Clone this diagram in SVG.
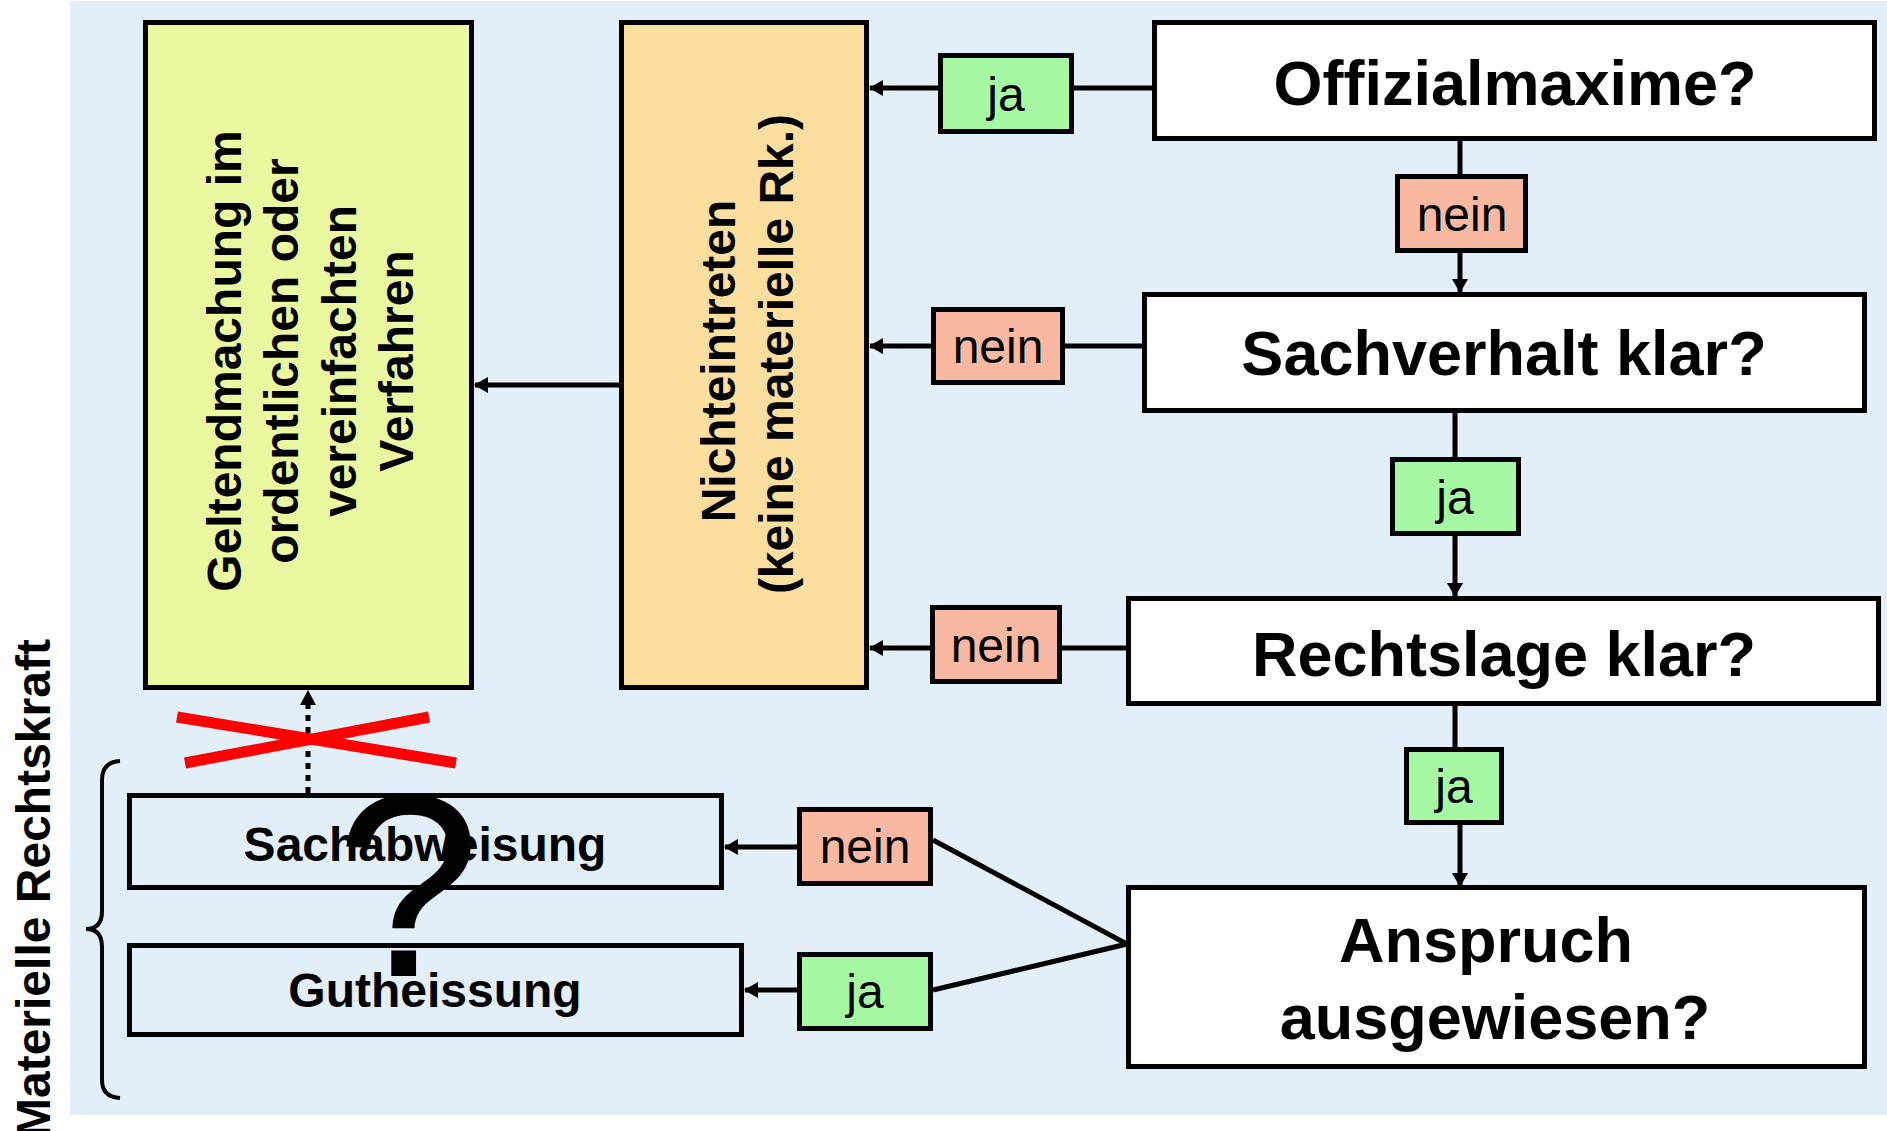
<svg xmlns="http://www.w3.org/2000/svg" width="1887" height="1131" viewBox="0 0 1887 1131">
<style>
text{font-family:"Liberation Sans",Arial,Helvetica,sans-serif;fill:#000}
.b{font-weight:bold}
.q{font-size:63px;font-weight:bold;text-anchor:middle}
.v{font-size:48px;font-weight:bold;text-anchor:middle}
.l{font-size:48px;text-anchor:middle}
.box{stroke:#000;stroke-width:5}
.ja{fill:#A6F8A2;stroke:#000;stroke-width:5}
.nein{fill:#F9B9A1;stroke:#000;stroke-width:5}
.c{stroke:#000;stroke-width:5;fill:none}
.a{stroke:#000;stroke-width:5;fill:none;marker-end:url(#ah)}
</style>
<defs>
<marker id="ah" viewBox="0 0 14 16" refX="13" refY="8" markerWidth="14" markerHeight="16" markerUnits="userSpaceOnUse" orient="auto">
<path d="M0,0 L14,8 L0,16 Z" fill="#000"/>
</marker>
</defs>
<rect x="0" y="0" width="1887" height="1131" fill="#FFFFFF"/>
<rect x="70" y="1" width="1817" height="1114" fill="#E2EEF8"/>

<g id="connectors">
<line class="c" x1="1153" y1="88" x2="1074" y2="88"/>
<line class="a" x1="938" y1="88" x2="870" y2="88"/>
<line class="c" x1="1460" y1="141" x2="1460" y2="174"/>
<line class="a" x1="1460" y1="253" x2="1460" y2="292"/>
<line class="c" x1="1142" y1="346" x2="1065" y2="346"/>
<line class="a" x1="931" y1="346" x2="870" y2="346"/>
<line class="c" x1="1455" y1="412" x2="1455" y2="457"/>
<line class="a" x1="1455" y1="536" x2="1455" y2="596"/>
<line class="c" x1="1126" y1="648" x2="1062" y2="648"/>
<line class="a" x1="930" y1="648" x2="870" y2="648"/>
<line class="c" x1="1455" y1="706" x2="1455" y2="747"/>
<line class="a" x1="1460" y1="825" x2="1460" y2="886"/>
<polyline class="c" points="933,840 1127,944 933,990"/>
<line class="a" x1="797" y1="847" x2="725" y2="847"/>
<line class="a" x1="797" y1="990" x2="745" y2="990"/>
<line class="a" x1="619" y1="385" x2="475" y2="385"/>
<line stroke="#000" stroke-width="5" stroke-dasharray="6 6" x1="308" y1="793" x2="308" y2="704"/>
<path d="M300,705 L308,690 L316,705 Z" fill="#000"/>
</g>

<g id="geltendmachung">
<rect class="box" x="145.5" y="22.5" width="326" height="665" fill="#EAF8A0"/>
<text class="v" transform="translate(241,361) rotate(-90)">Geltendmachung im</text>
<text class="v" transform="translate(298,361) rotate(-90)">ordentlichen oder</text>
<text class="v" transform="translate(356,361) rotate(-90)">vereinfachten</text>
<text class="v" transform="translate(413,361) rotate(-90)">Verfahren</text>
</g>

<g id="nichteintreten">
<rect class="box" x="621.5" y="22.5" width="245" height="665" fill="#FCDE9E"/>
<text class="v" transform="translate(735,361) rotate(-90)">Nichteintreten</text>
<text class="v" transform="translate(793,354) rotate(-90)">(keine materielle Rk.)</text>
</g>

<g id="offizialmaxime">
<rect class="box" x="1154.5" y="22.5" width="720" height="116" fill="#FFFFFF"/>
<text class="q" x="1515" y="105">Offizialmaxime?</text>
</g>
<g id="sachverhalt">
<rect class="box" x="1144.5" y="294.5" width="720" height="116" fill="#FFFFFF"/>
<text class="q" x="1504" y="375">Sachverhalt klar?</text>
</g>
<g id="rechtslage">
<rect class="box" x="1128.5" y="598.5" width="750" height="105" fill="#FFFFFF"/>
<text class="q" x="1504" y="676">Rechtslage klar?</text>
</g>
<g id="anspruch">
<rect class="box" x="1128.5" y="887.5" width="736" height="179" fill="#FFFFFF"/>
<text class="q" x="1486" y="962">Anspruch</text>
<text class="q" x="1495" y="1039">ausgewiesen?</text>
</g>

<g id="label-ja-1"><rect class="ja" x="940.5" y="55.5" width="131" height="76"/><text class="l" x="1006" y="111">ja</text></g>
<g id="label-nein-2"><rect class="nein" x="1397.5" y="176.5" width="128" height="74"/><text class="l" x="1462" y="231">nein</text></g>
<g id="label-nein-3"><rect class="nein" x="933.5" y="309.5" width="129" height="73"/><text class="l" x="998" y="363">nein</text></g>
<g id="label-ja-4"><rect class="ja" x="1392.5" y="459.5" width="126" height="74"/><text class="l" x="1455" y="514">ja</text></g>
<g id="label-nein-5"><rect class="nein" x="932.5" y="607.5" width="127" height="74"/><text class="l" x="996" y="662">nein</text></g>
<g id="label-ja-6"><rect class="ja" x="1406.5" y="749.5" width="95" height="73"/><text class="l" x="1454" y="803">ja</text></g>
<g id="label-nein-7"><rect class="nein" x="799.5" y="809.5" width="131" height="74"/><text class="l" x="865" y="863">nein</text></g>
<g id="label-ja-8"><rect class="ja" x="799.5" y="954.5" width="131" height="74"/><text class="l" x="865" y="1008">ja</text></g>

<g id="sachabweisung">
<rect class="box" x="129.5" y="795.5" width="592" height="92" fill="none"/>
<text class="v" x="425" y="861">Sachabweisung</text>
</g>
<g id="gutheissung">
<rect class="box" x="129.5" y="945.5" width="612" height="89" fill="none"/>
<text class="v" x="435" y="1007">Gutheissung</text>
</g>

<g id="cross">
<line x1="177" y1="717" x2="456" y2="763" stroke="#FF0000" stroke-width="11"/>
<line x1="185" y1="763" x2="429" y2="717" stroke="#FF0000" stroke-width="11"/>
</g>

<g id="question">
<text x="408" y="976" style="font-size:260px;text-anchor:middle">?</text>
</g>

<g id="brace">
<path d="M120,761 Q102,762 102,780 L102,911 Q102,929 86,929 Q102,929 102,947 L102,1080 Q102,1097 120,1098" fill="none" stroke="#000" stroke-width="4"/>
</g>

<g id="materielle-rechtskraft">
<text class="b" style="font-size:48px" transform="translate(50,1138) rotate(-90)">Materielle Rechtskraft</text>
</g>
</svg>
